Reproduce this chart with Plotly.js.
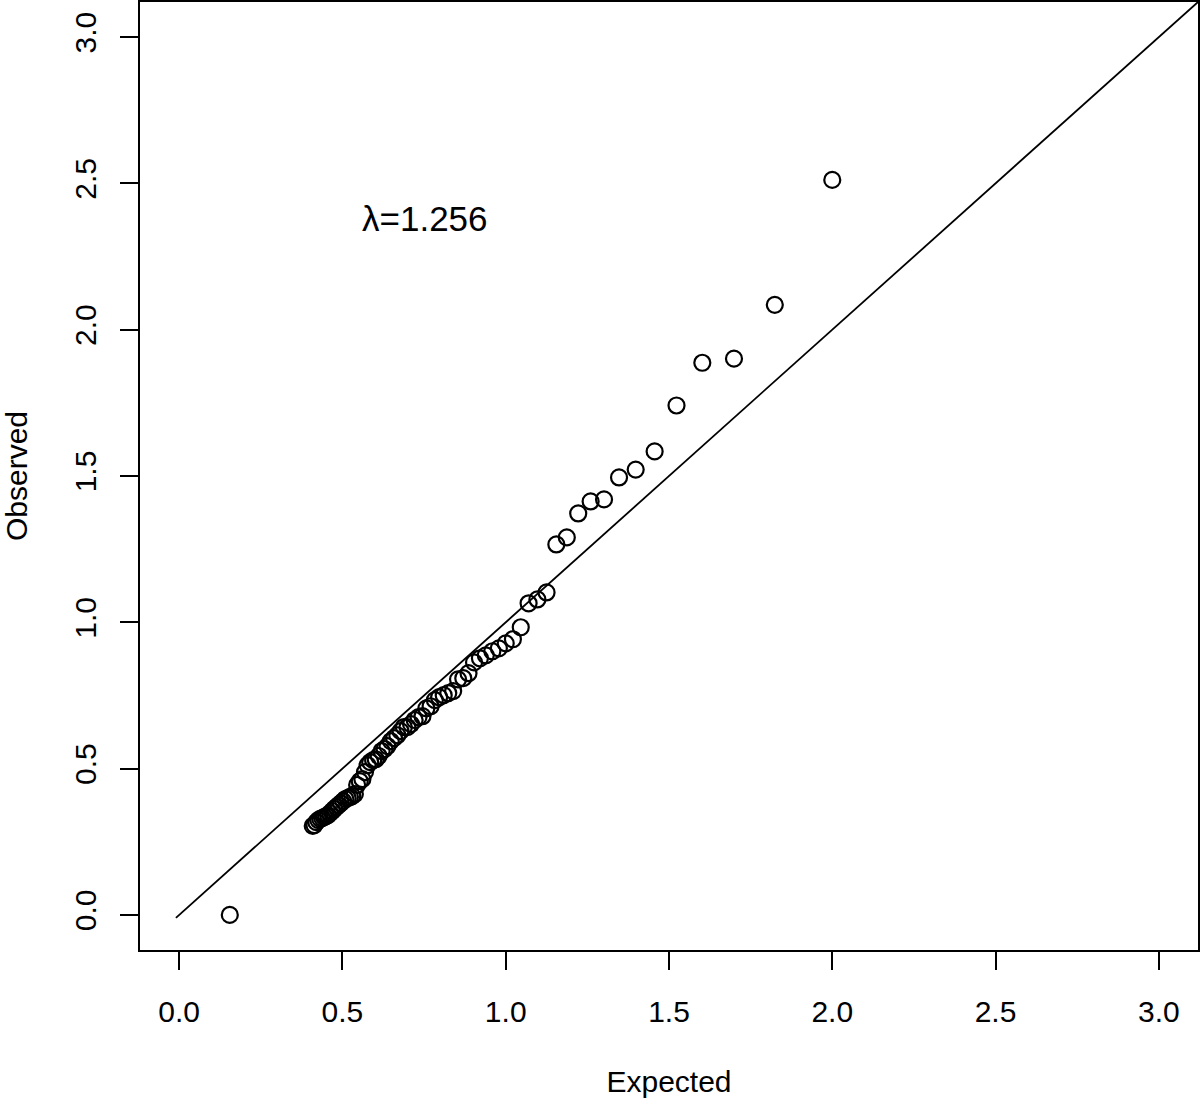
<!DOCTYPE html>
<html>
<head>
<meta charset="utf-8">
<script src="https://cdn.plot.ly/plotly-3.0.1.min.js"></script>
<style>html,body{margin:0;padding:0;background:#fff;}#plot{width:1200px;height:1098px;}</style>
</head>
<body>
<div id="plot"></div>
<script>
// Expected -log10(p) quantiles
const expected = [2.000, 1.824, 1.699, 1.602, 1.523, 1.456, 1.398, 1.347, 1.301, 1.260,
  1.222, 1.187, 1.155, 1.125, 1.097, 1.070, 1.046, 1.022, 1.000, 0.979,
  0.959, 0.939, 0.921, 0.903, 0.886, 0.870, 0.854, 0.839, 0.824, 0.810,
  0.796, 0.783, 0.770, 0.757, 0.745, 0.733, 0.721, 0.710, 0.699, 0.688,
  0.678, 0.668, 0.658, 0.648, 0.638, 0.629, 0.620, 0.611, 0.602, 0.594,
  0.585, 0.577, 0.569, 0.561, 0.553, 0.545, 0.538, 0.530, 0.523, 0.516,
  0.509, 0.502, 0.495, 0.488, 0.482, 0.475, 0.469, 0.462, 0.456, 0.450,
  0.444, 0.438, 0.432, 0.426, 0.420, 0.414, 0.409, 0.155];
// Observed -log10(p)
const observed = [2.512, 2.085, 1.901, 1.887, 1.741, 1.584, 1.522, 1.495, 1.420, 1.413,
  1.372, 1.290, 1.266, 1.102, 1.078, 1.065, 0.983, 0.942, 0.928, 0.911,
  0.901, 0.887, 0.877, 0.863, 0.826, 0.809, 0.805, 0.765, 0.758, 0.751,
  0.744, 0.734, 0.713, 0.706, 0.679, 0.676, 0.666, 0.652, 0.642, 0.642,
  0.628, 0.614, 0.604, 0.594, 0.577, 0.567, 0.560, 0.543, 0.532, 0.529,
  0.522, 0.512, 0.488, 0.464, 0.457, 0.444, 0.413, 0.406, 0.403, 0.399,
  0.396, 0.389, 0.382, 0.375, 0.369, 0.362, 0.355, 0.348, 0.341, 0.338,
  0.334, 0.331, 0.328, 0.324, 0.317, 0.307, 0.304, 0.000];
// Reference line y = x
const refLine = [-0.01, 3.2];
const tickVals = [0, 0.5, 1.0, 1.5, 2.0, 2.5, 3.0];
const tickText = ["0.0", "0.5", "1.0", "1.5", "2.0", "2.5", "3.0"];
const lambdaLabel = "λ=1.256";

const font = {family: "Liberation Sans, Arial, Helvetica, sans-serif", color: "#000"};

const traces = [
  {x: refLine, y: refLine, mode: "lines", type: "scatter",
   line: {color: "#000", width: 1.8}, hoverinfo: "skip", cliponaxis: true},
  {x: expected, y: observed, mode: "markers", type: "scatter",
   marker: {symbol: "circle-open", size: 16, color: "#000", line: {width: 2.2, color: "#000"}}}
];

const axisCommon = {
  range: [-0.12, 3.12], tickvals: tickVals, ticktext: tickText,
  showgrid: false, zeroline: false, showline: true, mirror: true,
  linecolor: "#000", linewidth: 2, ticks: "outside", ticklen: 18, tickwidth: 2,
  tickcolor: "#000", tickfont: Object.assign({size: 30}, font), automargin: false
};

const layout = {
  width: 1200, height: 1098,
  margin: {l: 140, r: 2, t: 2, b: 148},
  paper_bgcolor: "#fff", plot_bgcolor: "#fff",
  showlegend: false, font: font,
  xaxis: Object.assign({}, axisCommon, {
    ticklabelstandoff: 16,
    title: {text: "Expected", font: Object.assign({size: 30}, font), standoff: 44}
  }),
  yaxis: Object.assign({}, axisCommon, {
    tickangle: -90, ticklabelstandoff: 12,
    title: {text: "Observed", font: Object.assign({size: 30}, font), standoff: 40}
  }),
  annotations: [{
    x: 0.752, y: 2.379, xref: "x", yref: "y", text: lambdaLabel, showarrow: false,
    font: Object.assign({size: 35}, font), xanchor: "center", yanchor: "middle"
  }]
};

Plotly.newPlot("plot", traces, layout, {displayModeBar: false, staticPlot: true});
</script>
</body>
</html>
